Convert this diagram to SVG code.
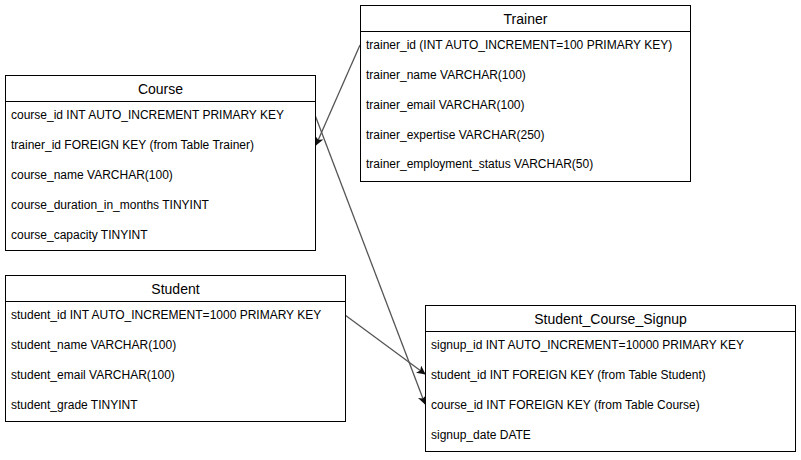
<svg xmlns="http://www.w3.org/2000/svg" width="801" height="460" viewBox="0 0 801 460">
<style>
.box{fill:#fff;stroke:#000;stroke-width:1}
.sep{stroke:#000;stroke-width:1}
.hd{font-family:"Liberation Sans",Arial,sans-serif;font-size:14px;font-weight:normal;fill:#000;text-anchor:middle}
.row{font-family:"Liberation Sans",Arial,sans-serif;font-size:12px;font-weight:normal;fill:#000}
.conn{fill:none;stroke:#555;stroke-width:1.3}
</style>
<defs>
<marker id="arr" viewBox="0 0 10 10" refX="9" refY="5" markerWidth="9" markerHeight="9" markerUnits="userSpaceOnUse" orient="auto">
<path d="M0,0 L10,5 L0,10 L2.5,5 Z" fill="#111"/>
</marker>
</defs>
<rect width="801" height="460" fill="#fff"/>
<g id="connectors">
<line class="conn" x1="360" y1="45" x2="316" y2="145" marker-end="url(#arr)"/>
<line class="conn" x1="315" y1="115" x2="425" y2="404" marker-end="url(#arr)"/>
<line class="conn" x1="345" y1="315" x2="425" y2="374" marker-end="url(#arr)"/>
</g>
<g id="course">
<rect class="box" x="5.5" y="75.5" width="310" height="175"/>
<line class="sep" x1="5.5" y1="101.5" x2="315.5" y2="101.5"/>
<text class="hd" x="160.5" y="93.5">Course</text>
<text class="row" x="11" y="118.5">course_id INT AUTO_INCREMENT PRIMARY KEY</text>
<text class="row" x="11" y="148.5">trainer_id FOREIGN KEY (from Table Trainer)</text>
<text class="row" x="11" y="178.5">course_name VARCHAR(100)</text>
<text class="row" x="11" y="208.5">course_duration_in_months TINYINT</text>
<text class="row" x="11" y="238.5">course_capacity TINYINT</text>
</g>
<g id="trainer">
<rect class="box" x="360.5" y="5.5" width="330" height="176"/>
<line class="sep" x1="360.5" y1="31.5" x2="690.5" y2="31.5"/>
<text class="hd" x="525.5" y="23.5">Trainer</text>
<text class="row" x="366" y="49">trainer_id (INT AUTO_INCREMENT=100 PRIMARY KEY)</text>
<text class="row" x="366" y="79">trainer_name VARCHAR(100)</text>
<text class="row" x="366" y="108.5">trainer_email VARCHAR(100)</text>
<text class="row" x="366" y="138.5">trainer_expertise VARCHAR(250)</text>
<text class="row" x="366" y="168">trainer_employment_status VARCHAR(50)</text>
</g>
<g id="student">
<rect class="box" x="5.5" y="275.5" width="340" height="146"/>
<line class="sep" x1="5.5" y1="301.5" x2="345.5" y2="301.5"/>
<text class="hd" x="175.5" y="293.5">Student</text>
<text class="row" x="11" y="318.5">student_id INT AUTO_INCREMENT=1000 PRIMARY KEY</text>
<text class="row" x="11" y="348.5">student_name VARCHAR(100)</text>
<text class="row" x="11" y="378.5">student_email VARCHAR(100)</text>
<text class="row" x="11" y="408.5">student_grade TINYINT</text>
</g>
<g id="signup">
<rect class="box" x="425.5" y="305.5" width="370" height="146"/>
<line class="sep" x1="425.5" y1="331.5" x2="795.5" y2="331.5"/>
<text class="hd" x="610.5" y="323.5">Student_Course_Signup</text>
<text class="row" x="431" y="348.5">signup_id INT AUTO_INCREMENT=10000 PRIMARY KEY</text>
<text class="row" x="431" y="378.5">student_id INT FOREIGN KEY (from Table Student)</text>
<text class="row" x="431" y="408.5">course_id INT FOREIGN KEY (from Table Course)</text>
<text class="row" x="431" y="438.5">signup_date DATE</text>
</g>
</svg>
